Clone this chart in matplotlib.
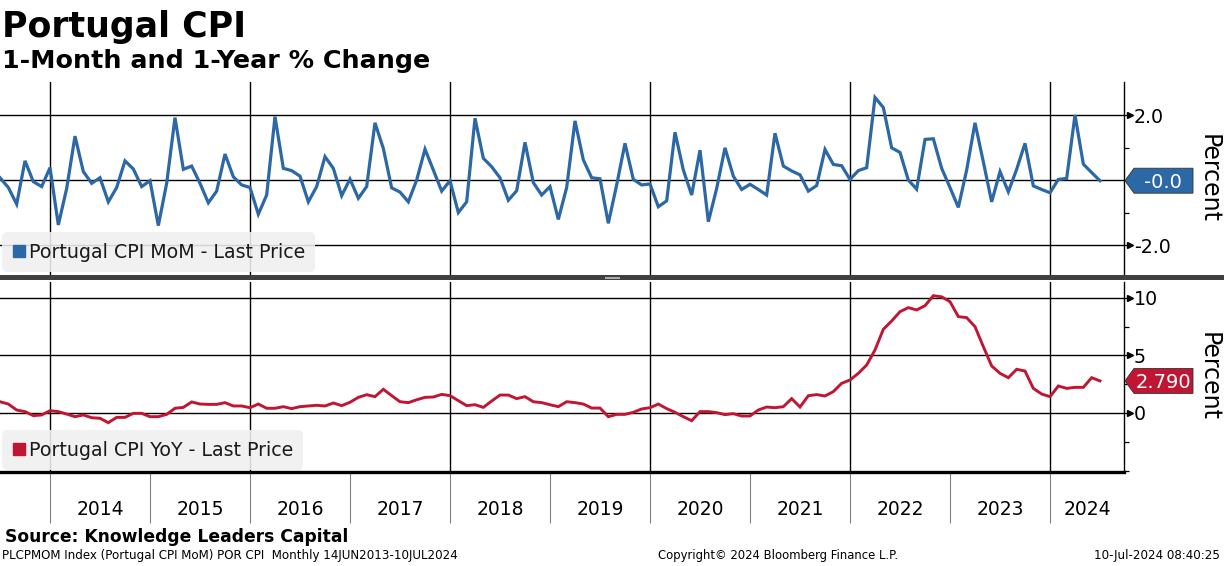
import matplotlib
matplotlib.use('Agg')
import matplotlib.pyplot as plt
import numpy as np
from matplotlib.patches import Polygon, Rectangle
from matplotlib.lines import Line2D
import matplotlib.transforms as mtransforms
from matplotlib.ticker import FixedLocator

# ---------------- data ----------------
start_year = 2013
start_month = 6  # June 2013 .. June 2024, monthly

mom = [0.07, -0.23, -0.74, 0.59, -0.05, -0.20, 0.38, -1.38, -0.26, 1.35,
       0.26, -0.10, 0.07, -0.67, -0.23, 0.59, 0.34, -0.20, -0.02, -1.40,
       -0.10, 1.92, 0.33, 0.43, -0.10, -0.70, -0.34, 0.80, 0.10, -0.15,
       -0.23, -1.05, -0.46, 1.95, 0.36, 0.29, 0.12, -0.67, -0.20, 0.72,
       0.36, -0.48, 0.03, -0.56, -0.20, 1.76, 0.97, -0.24, -0.37, -0.67,
       0.00, 0.95, 0.31, -0.34, -0.02, -1.00, -0.67, 1.90, 0.67, 0.41,
       0.07, -0.62, -0.33, 1.16, -0.08, -0.46, -0.20, -1.21, -0.23, 1.82,
       0.62, 0.07, 0.04, -1.33, -0.15, 1.13, 0.02, -0.15, -0.12, -0.82,
       -0.64, 1.47, 0.31, -0.46, 0.92, -1.28, -0.26, 0.99, 0.12, -0.29,
       -0.13, -0.29, -0.46, 1.44, 0.43, 0.28, 0.16, -0.34, -0.17, 0.94,
       0.48, 0.44, 0.02, 0.29, 0.38, 2.54, 2.23, 0.99, 0.85, 0.00,
       -0.28, 1.25, 1.27, 0.36, -0.23, -0.84, 0.31, 1.76, 0.56, -0.67,
       0.26, -0.36, 0.33, 1.13, -0.18, -0.29, -0.39, 0.02, 0.05, 2.00,
       0.49, 0.23, -0.02]

yoy = [0.98, 0.78, 0.26, 0.12, -0.23, -0.17, 0.20, 0.12, -0.09, -0.32,
       -0.17, -0.41, -0.46, -0.84, -0.38, -0.38, -0.03, -0.03, -0.32, -0.32,
       -0.12, 0.41, 0.49, 0.96, 0.78, 0.75, 0.75, 0.90, 0.61, 0.61,
       0.46, 0.78, 0.41, 0.41, 0.55, 0.38, 0.55, 0.61, 0.67, 0.61,
       0.87, 0.64, 0.93, 1.36, 1.59, 1.42, 2.06, 1.51, 0.98, 0.90,
       1.15, 1.36, 1.39, 1.62, 1.51, 1.07, 0.64, 0.72, 0.49, 1.04,
       1.56, 1.56, 1.25, 1.42, 0.98, 0.90, 0.72, 0.55, 0.98, 0.90,
       0.78, 0.43, 0.43, -0.32, -0.12, -0.12, 0.06, 0.35, 0.46, 0.78,
       0.38, 0.06, -0.32, -0.67, 0.12, 0.12, 0.03, -0.14, -0.06, -0.26,
       -0.26, 0.26, 0.52, 0.46, 0.55, 1.25, 0.52, 1.50, 1.60, 1.48,
       1.86, 2.58, 2.87, 3.45, 4.17, 5.48, 7.28, 8.00, 8.81, 9.16,
       8.96, 9.33, 10.20, 10.10, 9.68, 8.38, 8.29, 7.51, 5.77, 4.09,
       3.45, 3.07, 3.80, 3.65, 2.14, 1.65, 1.42, 2.35, 2.14, 2.23,
       2.23, 3.07, 2.79]

years = list(range(2014, 2025))
mom_label = "Portugal CPI MoM - Last Price"
yoy_label = "Portugal CPI YoY - Last Price"
title = "Portugal CPI"
subtitle = "1-Month and 1-Year % Change"
source = "Source: Knowledge Leaders Capital"
footer_left = "PLCPMOM Index (Portugal CPI MoM) POR CPI  Monthly 14JUN2013-10JUL2024"
footer_mid = "Copyright\u00a9 2024 Bloomberg Finance L.P."
footer_right = "10-Jul-2024 08:40:25"

BLUE = '#2c68a5'
RED = '#c01633'

n = len(mom)
x = start_year + (start_month + np.arange(n)) / 12.0
XMIN, XMAX = 2013.5, 2024.74

W, H = 1224, 566
fig = plt.figure(figsize=(W / 100, H / 100), dpi=100)
fig.patch.set_facecolor('white')

ax1 = fig.add_axes([0, 1 - 276 / H, 1124 / W, 194 / H])
ax2 = fig.add_axes([0, 1 - 472 / H, 1124 / W, 190 / H])


def style_axis(ax, ylim, majors, major_labels, minors):
    ax.set_xlim(XMIN, XMAX)
    ax.set_ylim(*ylim)
    for s in ['top', 'left']:
        ax.spines[s].set_visible(False)
    ax.spines['right'].set_color('black')
    ax.spines['right'].set_linewidth(1.0)
    ax.yaxis.tick_right()
    ax.set_yticks(majors)
    ax.set_yticklabels(major_labels)
    ax.yaxis.set_minor_locator(FixedLocator(minors))
    ax.tick_params(axis='y', which='major', direction='out', length=6,
                   width=0.9, pad=1, labelsize=13.7, colors='black')
    ax.tick_params(axis='y', which='minor', direction='out', length=3.5,
                   width=0.9)
    for v in majors:
        ax.axhline(v, color='black', lw=1.0, zorder=1)
    for yr in years[::2]:
        ax.axvline(yr, color='black', lw=1.0, zorder=1)
    # arrow heads on major ticks
    tr = ax.get_yaxis_transform() + mtransforms.ScaledTranslation(6 / 100, 0, fig.dpi_scale_trans)
    ax.plot([1] * len(majors), majors, linestyle='none', marker='>',
            markersize=5, color='black', transform=tr, clip_on=False)


style_axis(ax1, (-2.95, 3.015), [-2, 0, 2], ['-2.0', '', '2.0'], [-1, 1])
style_axis(ax2, (-5.13, 11.39), [0, 5, 10], ['0', '5', '10'], [-5, -2.5, 2.5, 7.5])

ax1.spines['bottom'].set_visible(False)
ax1.tick_params(axis='x', which='both', length=0, labelbottom=False)

ax2.spines['bottom'].set_linewidth(2.4)
ax2.spines['bottom'].set_color('black')
ax2.set_xticks(years)
ax2.set_xticklabels([''] * len(years))
ax2.tick_params(axis='x', which='major', direction='out', length=37,
                width=0.8, color='#808080')
label_pos = [(yr + min(yr + 1, XMAX)) / 2 for yr in years]
ax2.xaxis.set_minor_locator(FixedLocator(label_pos))
ax2.set_xticklabels([str(y) for y in years], minor=True)
ax2.tick_params(axis='x', which='minor', length=0, pad=20, labelsize=13.5)

# data lines
ax1.plot(x, mom, color=BLUE, lw=2.3, zorder=3, solid_joinstyle='miter')
ax2.plot(x, yoy, color=RED, lw=2.1, zorder=3, solid_joinstyle='miter')

# legends
for ax, lab, col, anchor in [(ax1, mom_label, BLUE, (2 / 1124, 4 / 194)),
                             (ax2, yoy_label, RED, (2 / 1124, 2 / 190))]:
    h = Line2D([], [], linestyle='none', marker='s', markersize=8,
               color=col)
    leg = ax.legend([h], [lab], loc='lower left', bbox_to_anchor=anchor,
                    borderaxespad=0, frameon=True, fancybox=True,
                    facecolor='#f0f0f0', edgecolor='none', framealpha=0.88,
                    fontsize=13.7, handlelength=0.7, handletextpad=0.15,
                    borderpad=0.55)
    leg.get_frame().set_boxstyle('round,pad=0.0,rounding_size=0.3')
    leg.set_zorder(5)
    for t in leg.get_texts():
        t.set_color('#1a1a1a')

fig.canvas.draw()

# value tags on the right axis
ident = mtransforms.IdentityTransform()


def tag(ax, val, text, col):
    ypix = ax.transData.transform((XMIN, val))[1]
    x0 = ax.transAxes.transform((1, 0))[0] + 1
    hh = 12.5
    pts = [(x0, ypix), (x0 + 9, ypix + hh), (x0 + 68, ypix + hh),
           (x0 + 68, ypix - hh), (x0 + 9, ypix - hh)]
    poly = Polygon(pts, closed=True, facecolor=col, edgecolor='#333333',
                   lw=0.6, transform=ident, zorder=10)
    fig.patches.append(poly)
    fig.text((x0 + 38) / W, ypix / H, text, color='white', fontsize=14,
             ha='center', va='center_baseline', zorder=11)


tag(ax1, mom[-1], f"{mom[-1]:.1f}", BLUE)
tag(ax2, yoy[-1], f"{yoy[-1]:.3f}", RED)

# Percent labels
for ax in (ax1, ax2):
    bb = ax.get_position()
    fig.text(1209 / W, (bb.y0 + bb.y1) / 2, 'Percent', rotation=270,
             ha='center', va='center', fontsize=17)

# separator bar between panels
fig.patches.append(Rectangle((0, 1 - 280 / H), 1, 5 / H, transform=fig.transFigure,
                             facecolor='#404040', edgecolor='none', zorder=8))
for yy in (276.8, 278.4):
    fig.lines.append(Line2D([605 / W, 619 / W], [1 - yy / H, 1 - yy / H],
                            transform=fig.transFigure, color='#b0b0b0', lw=0.7, zorder=9))

# titles
fig.text(2 / W, 1 - 37 / H, title, fontsize=25, fontweight='bold',
         va='baseline', ha='left')
fig.text(2 / W, 1 - 68 / H, subtitle, fontsize=18.3, fontweight='bold',
         va='baseline', ha='left')

# footers
fig.text(5 / W, 1 - 537 / H, source, fontsize=12.3, fontweight='bold',
         va='center', ha='left')
fig.text(2 / W, 1 - 556 / H, footer_left, fontsize=8.6, va='center', ha='left')
fig.text(658 / W, 1 - 556 / H, footer_mid, fontsize=8.4, va='center', ha='left')
fig.text(1220 / W, 1 - 556 / H, footer_right, fontsize=8.6, va='center', ha='right')

fig.savefig('out.png', dpi=100)
